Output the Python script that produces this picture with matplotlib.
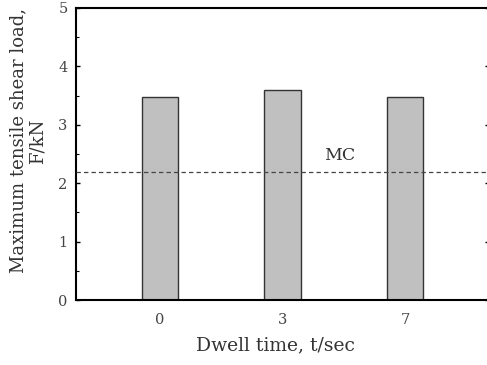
import matplotlib
matplotlib.use("Agg")
import matplotlib.pyplot as plt
from matplotlib.ticker import MultipleLocator

categories = ["0", "3", "7"]
values = [3.47, 3.59, 3.47]
mc_value = 2.2
mc_label = "MC"
yticks = [0, 1, 2, 3, 4, 5]

plt.rcParams['font.family'] = ['DejaVu Serif']

fig = plt.figure(figsize=(4.87, 3.65), dpi=100)
ax = fig.add_axes([76/487, 1-300/365, (489-76)/487, 292/365])

x = list(range(len(categories)))
ax.bar(x, values, width=0.3, color="#c0c0c0", edgecolor="#333333", linewidth=1.0, zorder=2)
ax.axhline(mc_value, color="#444444", linestyle=(0, (3.5, 2.5)), linewidth=0.9, zorder=3)
ax.text(1.47, 2.47, mc_label, fontsize=12.5, ha="center", va="center", color="#333333")

ax.set_xlim(-0.686, 2.686)
ax.set_ylim(0, 5)
ax.set_xticks(x)
ax.set_xticklabels(categories)
ax.set_yticks(yticks)
ax.yaxis.set_minor_locator(MultipleLocator(0.5))
ax.tick_params(axis='x', which='both', length=0, labelsize=10.5, pad=9, colors="#444444")
ax.tick_params(axis='y', which='major', direction='in', length=3, width=1, labelsize=10.5,
               right=True, pad=6, labelcolor="#444444")
ax.tick_params(axis='y', which='minor', direction='in', length=2, width=0.8, right=False)
for s in ax.spines.values():
    s.set_linewidth(1.5)
    s.set_color("black")

ax.set_xlabel("Dwell time, t/sec", fontsize=13.5, color="#333333")
ax.xaxis.set_label_coords(0.484, -0.125)
ax.set_ylabel("Maximum tensile shear load,\nF/kN", fontsize=13, color="#333333",
              linespacing=1.1)
ax.yaxis.set_label_coords(-0.071, 0.545)

fig.savefig("out.png", dpi=100)
